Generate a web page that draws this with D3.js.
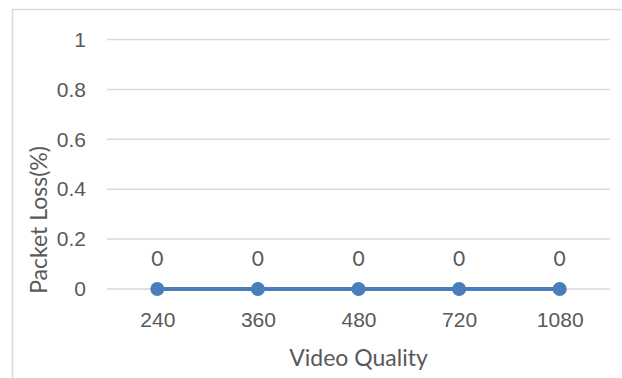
<!DOCTYPE html>
<html>
<head>
<meta charset="utf-8">
<script src="https://cdn.jsdelivr.net/npm/d3@7"></script>
<style>
  html, body { margin: 0; padding: 0; background: #fff; }
  svg { display: block; font-family: Lato, "Open Sans", sans-serif; }
</style>
</head>
<body>
<svg id="chart" width="622" height="378"></svg>
<script>
const qualities = ["240", "360", "480", "720", "1080"];
const packetLoss = [0, 0, 0, 0, 0];
const yTicks = [0, 0.2, 0.4, 0.6, 0.8, 1];

const svg = d3.select("#chart");
const W = 622, H = 378;
const plot = { left: 107, right: 610, top: 39.5, bottom: 289 };
const textColor = "#595959";
const lineColor = "#4a7ebb";
const tickFont = 21;
const titleFont = 23;

// chart frame
svg.append("path")
  .attr("d", `M12.5,${H} L12.5,9.5 L${W},9.5`)
  .attr("fill", "none")
  .attr("stroke", "#d9d9d9")
  .attr("stroke-width", 1.5);

const x = d3.scalePoint().domain(qualities).range([plot.left, plot.right]).padding(0.5);
const y = d3.scaleLinear().domain([0, 1]).range([plot.bottom, plot.top]);

// horizontal gridlines
svg.append("g")
  .selectAll("line")
  .data(yTicks)
  .join("line")
  .attr("x1", plot.left).attr("x2", plot.right)
  .attr("y1", d => y(d)).attr("y2", d => y(d))
  .attr("stroke", "#d9d9d9")
  .attr("stroke-width", 1.5);

// y axis labels
const yAxis = d3.axisLeft(y).tickValues(yTicks).tickFormat(d3.format("~g")).tickSize(0).tickPadding(0);
svg.append("g")
  .attr("transform", "translate(86,0)")
  .call(yAxis)
  .call(g => g.select(".domain").remove())
  .call(g => g.selectAll("text").attr("fill", textColor).attr("font-size", tickFont).attr("font-family", null));

// x axis labels
const xAxis = d3.axisBottom(x).tickSize(0).tickPadding(0);
svg.append("g")
  .attr("transform", `translate(0,${plot.bottom + 23})`)
  .call(xAxis)
  .call(g => g.select(".domain").remove())
  .call(g => g.selectAll("text").attr("fill", textColor).attr("font-size", tickFont).attr("font-family", null));

// series line
const line = d3.line().x((d, i) => x(qualities[i])).y(d => y(d));
svg.append("path")
  .datum(packetLoss)
  .attr("d", line)
  .attr("fill", "none")
  .attr("stroke", lineColor)
  .attr("stroke-width", 4);

// markers
svg.append("g")
  .selectAll("circle")
  .data(packetLoss)
  .join("circle")
  .attr("cx", (d, i) => x(qualities[i]))
  .attr("cy", d => y(d))
  .attr("r", 7)
  .attr("fill", lineColor);

// value labels
svg.append("g")
  .selectAll("text")
  .data(packetLoss)
  .join("text")
  .attr("x", (d, i) => x(qualities[i]))
  .attr("y", d => y(d) - 23)
  .attr("text-anchor", "middle")
  .attr("fill", textColor)
  .attr("font-size", tickFont)
  .text(d => d);

// axis titles
svg.append("text")
  .attr("x", (plot.left + plot.right) / 2)
  .attr("y", 366)
  .attr("text-anchor", "middle")
  .attr("fill", textColor)
  .attr("font-size", titleFont)
  .text("Video Quality");

svg.append("text")
  .attr("transform", "translate(47,220) rotate(-90)")
  .attr("text-anchor", "middle")
  .attr("fill", textColor)
  .attr("font-size", titleFont)
  .text("Packet Loss(%)");
</script>
</body>
</html>
